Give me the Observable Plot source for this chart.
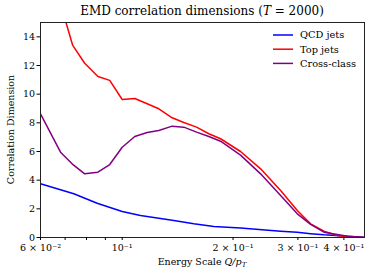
<!DOCTYPE html>
<html><head><meta charset="utf-8">
<script src="https://cdn.jsdelivr.net/npm/d3@7"></script>
<script src="https://cdn.jsdelivr.net/npm/@observablehq/plot@0.6"></script>
<style>body{margin:0;background:#fff}</style>
</head><body><div id="chart"></div>
<script>
const seriesNames = ["QCD jets", "Top jets", "Cross-class"];
const seriesColors = ["#0000ff", "#ff0000", "#800080"];

const qcdQ = [0.060, 0.0739, 0.0855, 0.100, 0.1121, 0.1381, 0.1565, 0.1774, 0.2096, 0.2693, 0.2989, 0.3249, 0.3530, 0.4088, 0.455];
const qcdD = [3.75, 3.05, 2.39, 1.81, 1.53, 1.19, 0.96, 0.77, 0.66, 0.44, 0.37, 0.27, 0.19, 0.09, 0.02];

const topQ = [0.060, 0.068, 0.0734, 0.0791, 0.0859, 0.0925, 0.100, 0.1082, 0.1169, 0.1257, 0.1367, 0.1470, 0.1592, 0.1719, 0.1850, 0.2096, 0.2376, 0.2693, 0.2989, 0.3249, 0.3530, 0.3839, 0.4088, 0.455];
const topD = [19.0, 16.3, 13.4, 12.16, 11.23, 10.96, 9.63, 9.70, 9.33, 8.98, 8.35, 8.02, 7.70, 7.24, 6.89, 6.0, 4.79, 3.28, 1.88, 0.95, 0.44, 0.14, 0.03, 0.0];

const crossQ = [0.060, 0.068, 0.0731, 0.0791, 0.0859, 0.0925, 0.100, 0.1082, 0.1169, 0.1257, 0.1367, 0.1470, 0.1592, 0.1719, 0.1850, 0.2096, 0.2376, 0.2693, 0.2989, 0.3249, 0.3530, 0.3839, 0.4088, 0.455];
const crossD = [8.63, 5.95, 5.14, 4.44, 4.56, 5.09, 6.30, 7.05, 7.33, 7.47, 7.77, 7.70, 7.35, 7.05, 6.72, 5.75, 4.44, 2.93, 1.65, 0.91, 0.37, 0.21, 0.09, 0.0];

const xTicks = [0.06, 0.07, 0.08, 0.09, 0.1, 0.2, 0.3, 0.4];
const xTickLabels = ["6 × 10⁻²", "", "", "", "10⁻¹", "2 × 10⁻¹", "3 × 10⁻¹", "4 × 10⁻¹"];
const yTicks = [0, 2, 4, 6, 8, 10, 12, 14];

const rows = [];
[[qcdQ, qcdD], [topQ, topD], [crossQ, crossD]].forEach(([q, d], i) =>
  q.forEach((v, j) => rows.push({series: seriesNames[i], q: v, d: d[j]})));

const labelMap = new Map(xTicks.map((t, i) => [t, xTickLabels[i]]));

const W = 373, H = 276, mL = 40, mR = 9, mT = 22, mB = 39;
const FONT = "'DejaVu Serif', serif";

const svg = Plot.plot({
  width: W, height: H, marginLeft: mL, marginRight: mR, marginTop: mT, marginBottom: mB,
  style: {fontFamily: FONT, fontSize: "9.5px", color: "#000", background: "#fff"},
  x: {type: "log", domain: [0.06, 0.455]},
  y: {domain: [0, 15]},
  color: {domain: seriesNames, range: seriesColors},
  marks: [
    Plot.line(rows, {x: "q", y: "d", z: "series", stroke: "series", strokeWidth: 1.5, clip: true}),
    Plot.frame({stroke: "#222", strokeWidth: 1}),
    Plot.axisX({ticks: xTicks, tickFormat: d => labelMap.get(d) ?? "", tickSize: 3, tickPadding: 3.5, label: null}),
    Plot.axisY({ticks: yTicks, tickSize: 3.5, tickPadding: 2, label: null})
  ]
});
document.getElementById("chart").appendChild(svg);

const s = d3.select(svg);
const cx = mL + (W - mL - mR) / 2;
// title
const t = s.append("text").attr("x", cx).attr("y", 15).attr("text-anchor", "middle")
  .attr("font-family", FONT).attr("font-size", 12).attr("fill", "#000");
t.append("tspan").text("EMD correlation dimensions (");
t.append("tspan").attr("font-style", "italic").text("T");
t.append("tspan").text(" = 2000)");
// x label
const xl = s.append("text").attr("x", cx).attr("y", 265).attr("text-anchor", "middle")
  .attr("font-family", FONT).attr("font-size", 9.5).attr("fill", "#000");
xl.append("tspan").text("Energy Scale ");
xl.append("tspan").attr("font-style", "italic").text("Q/p");
xl.append("tspan").attr("font-style", "italic").attr("font-size", 7).attr("dy", 2).text("T");
// y label
s.append("text").attr("transform", `translate(14,${mT + (H - mT - mB) / 2}) rotate(-90)`)
  .attr("text-anchor", "middle").attr("font-family", FONT).attr("font-size", 9.5).attr("fill", "#000")
  .text("Correlation Dimension");
// legend
const lg = s.append("g").attr("text-anchor", "start");
seriesNames.forEach((n, i) => {
  const y = 35 + i * 14.2;
  lg.append("line").attr("x1", 273).attr("x2", 293).attr("y1", y).attr("y2", y)
    .attr("stroke", seriesColors[i]).attr("stroke-width", 1.5);
  lg.append("text").attr("x", 300).attr("y", y).attr("dy", "0.35em").attr("text-anchor", "start")
    .attr("font-family", FONT).attr("font-size", 9.8).attr("fill", "#000").text(n);
});
</script>
</body></html>
